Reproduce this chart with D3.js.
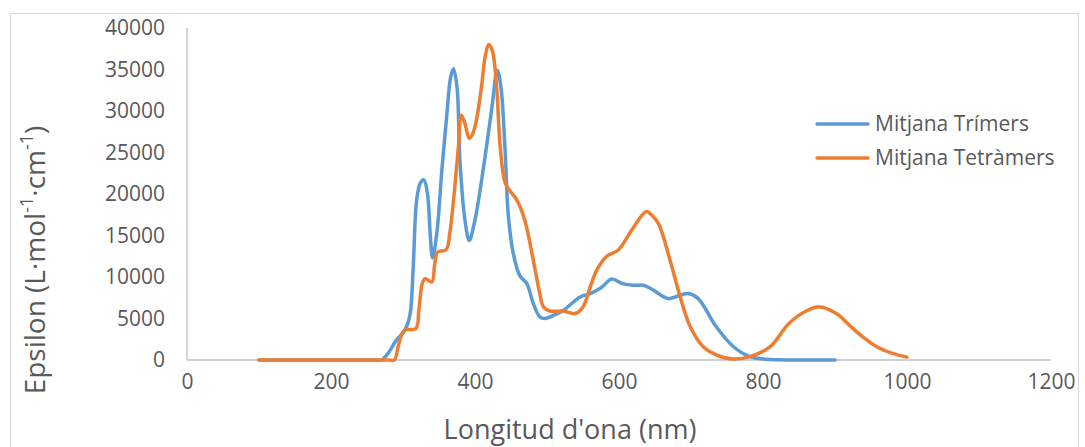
<!DOCTYPE html>
<html><head><meta charset="utf-8">
<script src="https://cdn.jsdelivr.net/npm/d3@7"></script>
<style>body{margin:0;background:#fff}svg{display:block}text{font-family:"Open Sans",sans-serif;fill:#595959}</style>
</head><body>
<svg id="c" width="1085" height="447"></svg>
<script>
const seriesNames = ["Mitjana Trímers", "Mitjana Tetràmers"];
const seriesColors = ["#5b9bd5", "#ed7d31"];
const xTicks = [0, 200, 400, 600, 800, 1000, 1200];
const yTicks = [0, 5000, 10000, 15000, 20000, 25000, 30000, 35000, 40000];
const trimersNm = [100,150,200,230,250,262,270,280,290,300,305,310,314,319,324,329,334,338,341,347,354,361,366,370,375,379,386,392,400,412,423,431,436,442,446,453,462,472,481,490,497,510,523,546,560,575,590,605,620,634,648,668,685,696,710,735,759,782,805,830,860,900];
const trimersEps = [0,0,0,0,0,0,0,900,2300,3300,4000,5600,10800,19300,21300,21700,20000,14900,12300,15300,22900,29700,34000,35100,32900,24100,16900,14400,16900,23300,30100,34900,32900,24900,17700,12900,10200,9200,6800,5200,5000,5400,6000,7600,8000,8700,9750,9200,9000,9000,8400,7400,7800,8000,7400,4000,1600,400,80,10,0,0];
const tetramersNm = [100,150,200,230,255,270,280,288,293,298,303,318,322,327,331,340,344,348,360,365,372,377,381,386,392,397,402,409,414,419,424,430,435,442,450,458,469,481,490,495,504,523,539,550,560,569,583,599,618,638,646,655,671,685,699,717,736,759,782,810,836,860,879,902,921,940,958,980,1000];
const tetramersEps = [0,0,0,0,0,0,0,0,1500,3000,3600,3800,6000,9300,9800,9400,11500,13000,13300,15300,20900,25700,29500,28500,26700,27300,28900,32900,36500,38000,37300,32900,25700,21300,20200,19300,16900,12000,8000,6400,5900,5900,5600,6400,8800,10800,12500,13250,15700,17900,17400,16400,12000,7600,4000,1600,600,120,400,1600,4400,5900,6400,5600,4100,2700,1600,800,350];

const svg = d3.select("#c");
svg.append("rect").attr("x",10.5).attr("y",13.5).attr("width",1068).attr("height",460)
  .attr("fill","#fff").attr("stroke","#d9d9d9");

const x = d3.scaleLinear().domain([0,1200]).range([187,1051]);
const y = d3.scaleLinear().domain([0,40000]).range([360,28]);

svg.append("line").attr("x1",x(0)).attr("x2",x(0)).attr("y1",y(40000)).attr("y2",y(0)).attr("stroke","#bfbfbf").attr("stroke-width",1.3);
svg.append("line").attr("x1",x(0)).attr("x2",x(1200)).attr("y1",y(0)).attr("y2",y(0)).attr("stroke","#bfbfbf").attr("stroke-width",1.3);

const yAxis = d3.axisLeft(y).tickValues(yTicks).tickSize(0).tickPadding(22).tickFormat(d3.format("d"));
const ga = svg.append("g").attr("transform",`translate(${x(0)},0)`).call(yAxis);
ga.select(".domain").remove();
ga.selectAll("text").style("font-size","21px").attr("fill","#595959");

const xAxis = d3.axisBottom(x).tickValues(xTicks).tickSize(0).tickPadding(14).tickFormat(d3.format("d"));
const gx = svg.append("g").attr("transform",`translate(0,${y(0)})`).call(xAxis);
gx.select(".domain").remove();
gx.selectAll("text").style("font-size","21px").attr("fill","#595959");

svg.append("text").attr("x",570).attr("y",439).attr("text-anchor","middle").style("font-size","27px").text("Longitud d'ona (nm)");

const yt = svg.append("text").attr("transform","translate(45,260) rotate(-90)").attr("text-anchor","middle").style("font-size","28px");
yt.append("tspan").text("Epsilon (L·mol");
yt.append("tspan").attr("baseline-shift","super").style("font-size","18px").text("-1");
yt.append("tspan").text("·cm");
yt.append("tspan").attr("baseline-shift","super").style("font-size","18px").text("-1");
yt.append("tspan").text(")");

const line = d3.line().x(d=>x(d[0])).y(d=>y(d[1])).curve(d3.curveCatmullRom.alpha(0.5));
const series = [d3.zip(trimersNm, trimersEps), d3.zip(tetramersNm, tetramersEps)];
series.forEach((s,i)=>{
  svg.append("path").datum(s).attr("d",line).attr("fill","none").attr("stroke",seriesColors[i])
    .attr("stroke-width",3.5).attr("stroke-linejoin","round").attr("stroke-linecap","round");
});

const lg = svg.append("g");
seriesNames.forEach((n,i)=>{
  const yy = 124 + i*34;
  lg.append("line").attr("x1",817).attr("x2",868).attr("y1",yy).attr("y2",yy).attr("stroke",seriesColors[i]).attr("stroke-width",3.5).attr("stroke-linecap","round");
  lg.append("text").attr("x",875).attr("y",yy+7).style("font-size","21px").text(n);
});
</script>
</body></html>
